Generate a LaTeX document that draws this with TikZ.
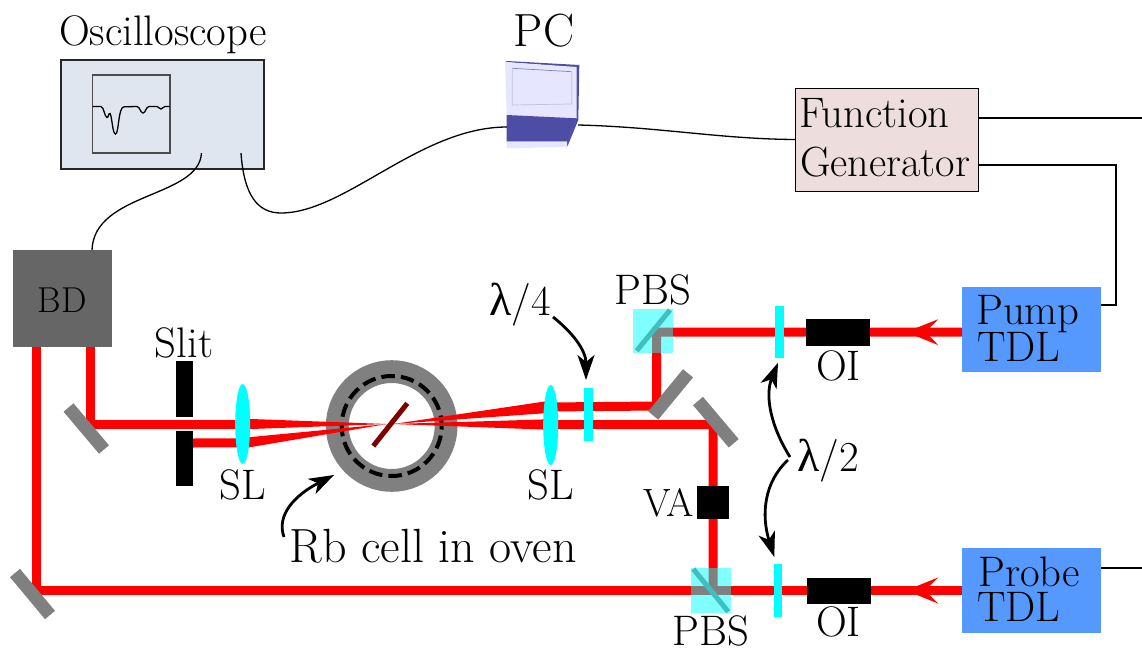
\documentclass[tikz,border=0pt]{standalone}
\usepackage{fontspec}
\newfontfamily\greekfont{Liberation Serif}
\usetikzlibrary{arrows.meta,shapes.geometric}
\definecolor{oscfill}{HTML}{DFE6F0}
\definecolor{fgfill}{HTML}{EDDEDD}
\definecolor{pcdark}{HTML}{4D4DA6}
\definecolor{pclight}{HTML}{E6E6FF}
\definecolor{laserblue}{HTML}{5599FF}
\definecolor{bdgray}{HTML}{666666}
\definecolor{mirgray}{HTML}{808080}
\definecolor{aqua}{RGB}{0,255,255}
\definecolor{pure red}{RGB}{255,0,0}
\tikzset{
  lab/.style={font=\fontsize{42.7}{46}\selectfont,inner sep=0pt,text=black},
  box/.style={anchor=north west,inner sep=0pt,outer sep=0pt},
  cable/.style={draw=black,line width=1.3pt},
  beam/.style={draw=pure red,line width=9pt,line cap=butt,line join=miter},
  cone/.style={fill=pure red,draw=none},
  mirror/.style={draw=mirgray,line width=13pt},
  plate/.style={box,fill=aqua,minimum width=8.5pt},
  blackbox/.style={box,fill=black},
  laser/.style={box,fill=laserblue,minimum width=139pt,minimum height=85pt},
  cube/.style={box,fill=aqua,fill opacity=.5,minimum width=39.5pt,minimum height=44.5pt},
  pointer/.style={draw=black,line width=2.8pt,-{Stealth[length=25pt,width=17pt,inset=7pt]}},
  lensshape/.style={ellipse,fill=aqua,inner sep=0pt,minimum width=15pt,minimum height=80pt},
  redtip/.style={fill=pure red,draw=none},
}
\newcommand{\lam}{{\greekfont\fontsize{46}{46}\selectfont λ}}
\begin{document}
\begin{tikzpicture}[x=1pt,y=-1pt]
\useasboundingbox (0,0) rectangle (1142,648);
% named points
\coordinate (oscA) at (201.5,153);
\coordinate (oscB) at (241,153);
\coordinate (pcL) at (507,127);
\coordinate (pcR) at (578,125);
\coordinate (focusL) at (387,424);
\coordinate (focusR) at (393,424);
\coordinate (pumpS) at (962,332);
\coordinate (pumpC) at (656.7,332);
\coordinate (pumpM) at (656.7,406);
\coordinate (lensRU) at (548,407);
\coordinate (lensRL) at (548,424.5);
\coordinate (probeS) at (962,590.5);
\coordinate (probeC) at (36.7,590.5);
\coordinate (vaC) at (713,424.7);
\coordinate (vaB) at (713,590.5);
\coordinate (lensLU) at (246,424);
\coordinate (lensLL) at (246,442.7);
\coordinate (slitR) at (193,443);
\coordinate (leftM) at (90.5,424);
% oscilloscope
\node[box,draw=black!85,line width=1.3pt,fill=oscfill,minimum width=203pt,minimum height=109pt] (osc) at (61,60) {};
\node[box,draw=black!70,line width=1.3pt,minimum width=77.5pt,minimum height=78pt] (screen) at (92.5,75) {};
\draw[line width=1.3pt,black] (92.5,106.5) -- (101,106.5) .. controls (104,107) and (104.5,117) .. (107,117.5) .. controls (108.5,118) and (108.5,112.5) .. (110,113.5) .. controls (112,116) and (112.5,134) .. (115.5,134) .. controls (119,134) and (118,107) .. (124,106.8) -- (137,106.5) .. controls (140,107) and (140.5,113) .. (143,113) .. controls (145.5,113) and (146,106.8) .. (149,106.5) -- (157,106.5) .. controls (159,107) and (159.5,109) .. (161,109) .. controls (162.5,109) and (163,106.5) .. (165,106.5) -- (170,106.5);
\node[lab] (oscLabel) at (163,35) {Oscilloscope};
% PC
\fill[pcdark] (505,62) -- (507,61) -- (579.3,65) -- (576.7,67.5) -- cycle;
\fill[pclight] (505,62) -- (576.7,67) -- (576.7,118.5) -- (506.7,115.5) -- cycle;
\fill[pcdark] (579.3,65) -- (578.3,120) -- (567.3,146.7) -- (567,141) -- (576.7,118) -- (576.7,67) -- cycle;
\fill[pcdark] (506.7,115) -- (576.7,118.3) -- (567,141.7) -- (506.7,141.7) -- cycle;
\fill[pclight] (506.7,141.7) -- (567,141.7) -- (567.3,147) -- (506.7,148.3) -- cycle;
\draw[pcdark!35,line width=.7pt] (512.3,68.3) -- (512.3,105) -- (571.7,104) -- (571.7,71.7);
\draw[pcdark!70,line width=.7pt] (512.3,68.3) -- (571.7,71.7);
\node[lab,font=\fontsize{46.5}{48}\selectfont] (pcLabel) at (544,31) {PC};
% function generator
\node[box,draw=black,line width=1pt,fill=fgfill,minimum width=183pt,minimum height=103pt] (fg) at (795,88) {};
\node[lab,anchor=base west] (fgA) at (799,127) {Function};
\node[lab,anchor=base west,font=\fontsize{42.2}{46}\selectfont] (fgB) at (800,176) {Generator};
% lasers
\node[laser] (pump) at (962,287) {};
\node[laser] (probe) at (962,548) {};
\node[lab,anchor=base west] (pumpA) at (976,324) {Pump};
\node[lab,anchor=base west] (pumpB) at (977,361) {TDL};
\node[lab,anchor=base west] (probeA) at (978,586) {Probe};
\node[lab,anchor=base west] (probeB) at (977,621) {TDL};
% detector
\node[box,fill=bdgray,minimum width=99pt,minimum height=97pt] (bd) at (13,250) {};
\node[lab,font=\fontsize{36}{38}\selectfont] (bdLabel) at (62,300) {BD};
% cables
\coordinate (bdTop) at (92,250);
\draw[cable] (oscA) .. controls (199,198) and (94,192) .. (bdTop);
\draw[cable] (oscB) .. controls (244,196) and (258,213) .. (281,213) .. controls (345,213) and (420,127) .. (pcL);
\draw[cable] (pcR) .. controls (660,127) and (720,139) .. (fg.west);
\coordinate (fgO1) at (978,118);
\coordinate (fgO2) at (978,165);
\coordinate (edge1) at (1142,118);
\coordinate (edge2) at (1142,568);
\coordinate (bendA) at (1116,165);
\coordinate (bendB) at (1116,305);
\coordinate (pumpIn) at (1101,305);
\coordinate (probeOut) at (1101,568);
\draw[cable] (fgO1) -- (edge1);
\draw[cable] (fgO2) -- (bendA) -- (bendB) -- (pumpIn);
\draw[cable] (probeOut) -- (edge2);
% oven ring and heater
\coordinate (cellC) at (391.7,426);
\draw[draw=mirgray,line width=22.8pt] (cellC) circle (54.4pt);
\draw[black,line width=4pt,dash pattern=on 13.5pt off 6.1pt,dash phase=3pt] (cellC) circle (50pt);
% beams
\draw[beam] (pumpS) -- (pumpC) -- (pumpM) -- (lensRU);
\draw[beam] (probeS) -- (probeC) -- (36.7,347);
\draw[beam] (lensRL) -- (vaC) -- (vaB);
\draw[beam] (lensLU) -- (leftM) -- (90.5,347);
\draw[beam] (lensLL) -- (slitR);
\fill[cone] ([yshift=-6pt]lensRU) -- (focusR) -- ([yshift=6pt]lensRU) -- cycle;
\fill[cone] ([yshift=-5.2pt]lensRL) -- (focusR) -- ([yshift=5.2pt]lensRL) -- cycle;
\fill[cone] ([yshift=-5.2pt]lensLU) -- (focusL) -- ([yshift=5.2pt]lensLU) -- cycle;
\fill[cone] ([yshift=-5.2pt]lensLL) -- (focusL) -- ([yshift=5.2pt]lensLL) -- cycle;
% sample
\draw[draw=black!50!pure red,line width=5pt] (373.3,446) -- (407.3,403.3);
% mirrors
\draw[mirror] (68.5,407.5) -- (104,449.5);
\draw[mirror] (688,373.3) -- (653.2,415.5);
\draw[mirror] (698,401) -- (733.7,443.3);
\draw[mirror] (15,573) -- (50,615);
% slit
\node[blackbox,minimum width=17.6pt,minimum height=55.4pt] (slitU) at (175.7,361.3) {};
\node[blackbox,minimum width=17.6pt,minimum height=55pt] (slitD) at (175.8,431.3) {};
\node[lab] (slitLabel) at (184,343) {Slit};
% lenses
\node[lensshape] (lensL) at (242.7,424) {};
\node[lensshape] (lensR) at (550.7,425) {};
\node[lab] (slL) at (243,485) {SL};
\node[lab] (slR) at (551,485) {SL};
% plates
\node[plate,minimum height=52.4pt] (qwp) at (584,388.3) {};
\node[plate,minimum height=52pt] (hwpA) at (775.3,305.7) {};
\node[plate,minimum height=52.4pt] (hwpB) at (773.7,564.3) {};
% isolators
\node[blackbox,minimum width=64pt,minimum height=27pt] (oiA) at (806.3,319.3) {};
\node[blackbox,minimum width=64pt,minimum height=26.6pt] (oiB) at (806.5,577.7) {};
\node[lab] (oiAL) at (838.5,366) {OI};
\node[lab] (oiBL) at (838.5,622) {OI};
% attenuator
\node[blackbox,minimum width=32.3pt,minimum height=33.6pt] (va) at (696.7,485.7) {};
\node[lab,anchor=east,font=\fontsize{39.5}{42}\selectfont] (vaL) at (694,503) {VA};
% PBS
\draw[mirgray,line width=5pt] (636.7,350.7) -- (670,310);
\draw[mirgray,line width=5pt] (693.3,569) -- (728.3,611.7);
\node[cube] (pbsA) at (633.3,308.5) {};
\node[cube] (pbsB) at (691.2,568.3) {};
\node[lab] (pbsAL) at (653,290) {PBS};
\node[lab] (pbsBL) at (711,631) {PBS};
% red arrowheads
\fill[redtip] (906,332) -- (938,319.3) .. controls (932,326) and (928,329) .. (925,332) .. controls (928,335) and (932,338) .. (938,345) -- cycle;
\fill[redtip] (906,590.5) -- (938,577.5) .. controls (932,584) and (928,587) .. (925,590.5) .. controls (928,594) and (932,597) .. (938,603.5) -- cycle;
% labels with pointers
\node[lab,font=\fontsize{48}{50}\selectfont] (rbL) at (433,546) {Rb cell in oven};
\node[lab] (l4) at (520,305) {\lam/4};
\node[lab] (l2) at (828,461) {\lam/2};
\coordinate (rbS) at (284,537);
\coordinate (rbT) at (334,475);
\draw[pointer] (rbS) .. controls (276,515) and (295,495) .. (rbT);
\coordinate (l4S) at (553,317);
\coordinate (l4T) at (586,380);
\draw[pointer] (l4S) .. controls (572,332) and (586,350) .. (l4T);
\coordinate (l2S) at (790,457);
\coordinate (l2T) at (778,362.7);
\draw[pointer] (l2S) .. controls (770,425) and (765,395) .. (l2T);
\coordinate (l2Sb) at (788,460);
\coordinate (l2Tb) at (774.3,557);
\draw[pointer] (l2Sb) .. controls (764,482) and (761,515) .. (l2Tb);
\end{tikzpicture}
\end{document}
